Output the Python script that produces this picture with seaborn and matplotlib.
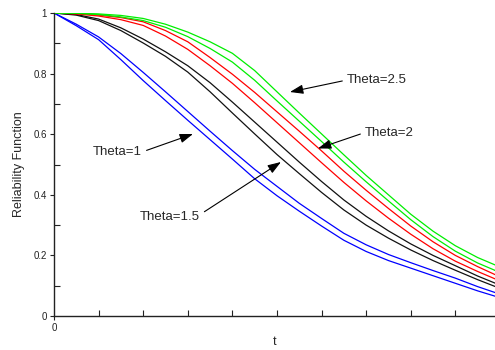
import matplotlib
matplotlib.use("Agg")
import matplotlib.pyplot as plt
import seaborn as sns
import pandas as pd

# ---- data ----
t = [0, 0.5, 1, 1.5, 2, 2.5, 3, 3.5, 4, 4.5, 5, 5.5, 6, 6.5, 7, 7.5, 8, 8.5, 9, 9.5, 9.9]

green_a = [1.000, 0.9995, 0.997, 0.992, 0.982, 0.963, 0.937, 0.905, 0.867, 0.810, 0.740,
           0.670, 0.601, 0.532, 0.464, 0.400, 0.336, 0.280, 0.232, 0.193, 0.168]
green_b = [1.000, 0.999, 0.995, 0.987, 0.975, 0.953, 0.922, 0.883, 0.838, 0.778, 0.710,
           0.643, 0.576, 0.508, 0.443, 0.380, 0.318, 0.262, 0.214, 0.175, 0.150]
red_a = [1.000, 0.998, 0.993, 0.985, 0.971, 0.942, 0.905, 0.853, 0.798, 0.738, 0.674,
         0.610, 0.545, 0.478, 0.415, 0.355, 0.297, 0.245, 0.200, 0.163, 0.136]
red_b = [1.000, 0.997, 0.990, 0.978, 0.959, 0.924, 0.880, 0.826, 0.768, 0.704, 0.638,
         0.572, 0.506, 0.441, 0.380, 0.323, 0.270, 0.222, 0.181, 0.147, 0.122]
black_a = [1.000, 0.995, 0.980, 0.951, 0.914, 0.872, 0.826, 0.770, 0.706, 0.640, 0.574,
           0.508, 0.444, 0.383, 0.329, 0.281, 0.238, 0.200, 0.166, 0.132, 0.108]
black_b = [1.000, 0.993, 0.975, 0.942, 0.901, 0.857, 0.805, 0.740, 0.670, 0.601, 0.533,
           0.470, 0.408, 0.350, 0.300, 0.257, 0.218, 0.183, 0.151, 0.120, 0.097]
blue_a = [1.000, 0.963, 0.921, 0.866, 0.804, 0.740, 0.675, 0.610, 0.546, 0.484, 0.428,
          0.372, 0.322, 0.273, 0.235, 0.203, 0.176, 0.150, 0.125, 0.097, 0.077]
blue_b = [1.000, 0.958, 0.912, 0.846, 0.777, 0.711, 0.646, 0.582, 0.518, 0.453, 0.397,
          0.346, 0.297, 0.250, 0.213, 0.183, 0.158, 0.133, 0.108, 0.083, 0.065]

curve_names = ["blue_a", "blue_b", "black_a", "black_b", "red_a", "red_b", "green_a", "green_b"]
curve_values = [blue_a, blue_b, black_a, black_b, red_a, red_b, green_a, green_b]
curve_colors = ["#0000ff", "#0000ff", "#111111", "#111111", "#ff0000", "#ff0000", "#00ee00", "#00ee00"]

y_ticks = [0, 0.2, 0.4, 0.6, 0.8, 1]
y_tick_labels = ["0", "0.2", "0.4", "0.6", "0.8", "1"]
x_ticks = [0]
x_tick_labels = ["0"]

labels = ["Theta=2.5", "Theta=2", "Theta=1", "Theta=1.5"]

# ---- build long table ----
rows = []
for name, vals in zip(curve_names, curve_values):
    for tt, v in zip(t, vals):
        rows.append({"t": tt, "R": v, "curve": name})
df = pd.DataFrame(rows)

sns.set_style("ticks")
plt.rcParams["font.family"] = ["Liberation Sans", "DejaVu Sans"]

fig = plt.figure(figsize=(4.95, 3.5), dpi=100)
ax = fig.add_axes([54 / 495, 34 / 350, 441 / 495, 303 / 350])

sns.lineplot(data=df, x="t", y="R", hue="curve", hue_order=curve_names,
             palette=dict(zip(curve_names, curve_colors)), estimator=None,
             sort=False, legend=False, linewidth=0.9, ax=ax)

ax.set_xlim(0, 9.89)
ax.set_ylim(0, 1)

ax.set_xticks(x_ticks)
ax.set_xticklabels(x_tick_labels)
ax.set_xticks(list(range(1, 10)), minor=True)
ax.set_yticks(y_ticks)
ax.set_yticklabels(y_tick_labels)
ax.set_yticks([0.1, 0.3, 0.5, 0.7, 0.9], minor=True)

ax.tick_params(axis="both", which="major", direction="out", length=3, width=0.8,
               labelsize=7, colors="#222222", pad=2)
ax.tick_params(axis="both", which="minor", direction="in", length=4, width=0.8, colors="#222222")

for side in ["top", "right"]:
    ax.spines[side].set_visible(False)
for side in ["left", "bottom"]:
    ax.spines[side].set_linewidth(1.0)
    ax.spines[side].set_color("#222222")

ax.set_xlabel("t", fontsize=9)
ax.set_ylabel("Reliability Function", fontsize=9)
ax.yaxis.set_label_coords(-0.066, 0.5)
ax.xaxis.set_label_coords(0.5, -0.065)

def px(x, y):
    return ((x - 54) / 44.6, (316 - y) / 303)

arrow_kw = dict(arrowstyle="-|>,head_length=0.8,head_width=0.28", color="black",
                lw=0.8, shrinkA=1, shrinkB=0, mutation_scale=10)

# Theta=2.5
ax.annotate(labels[0], xy=px(290, 92), xytext=px(347, 80), fontsize=9.5,
            ha="left", va="center", arrowprops=dict(relpos=(0, 0.5), **arrow_kw))
# Theta=2
ax.annotate(labels[1], xy=px(318, 148.5), xytext=px(365, 132.5), fontsize=9.5,
            ha="left", va="center", arrowprops=dict(relpos=(0, 0.5), **arrow_kw))
# Theta=1
ax.annotate(labels[2], xy=px(193, 134), xytext=px(142, 152), fontsize=9.5,
            ha="right", va="center", arrowprops=dict(relpos=(1, 0.5), **arrow_kw))
# Theta=1.5
ax.annotate(labels[3], xy=px(281, 162), xytext=px(200, 217), fontsize=9.5,
            ha="right", va="center", arrowprops=dict(relpos=(1, 0.7), **arrow_kw))

fig.savefig("out.png", dpi=100)
